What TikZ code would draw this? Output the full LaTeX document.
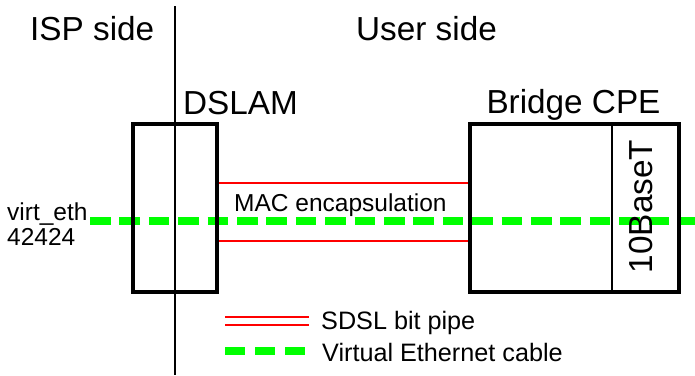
\documentclass[tikz,border=0pt]{standalone}
\usepackage{fontspec}
\setmainfont{Liberation Sans}
\usepackage{tikz}
\usetikzlibrary{positioning}
\definecolor{pipered}{HTML}{FF0000}
\definecolor{ethgreen}{HTML}{00FF00}
\tikzset{
    devbox/.style={draw=black,line width=4pt,minimum width=84pt,
      minimum height=167.5pt,inner sep=0pt},
    bigtext/.style={font=\fontsize{33.3}{40}\selectfont,inner sep=0pt},
    smalltext/.style={font=\fontsize{24.5}{30}\selectfont,inner sep=0pt},
    keytext/.style={font=\fontsize{25.2}{30}\selectfont,inner sep=0pt},
    sdslpipe/.style={draw=pipered,line width=2pt},
    virtcable/.style={draw=ethgreen,line width=8pt,line cap=butt,
      dash pattern=on 20.5pt off 8.9pt},
    sideline/.style={draw=black,line width=2pt}
}

\begin{document}
\begin{tikzpicture}[x=1pt,y=-1pt]
  \useasboundingbox (0,0) rectangle (695,375);
  % virtual ethernet cable, under the boxes
  \coordinate (cablein) at (90,220.7);
  \coordinate (cableout) at (695,220.7);
  \draw[virtcable] (cablein) -- (cableout);
  \node[smalltext,anchor=base west] (virt) at (7,220) {virt\_eth};
  \node[smalltext,anchor=base west] (vid) at (7,245) {42424};

  % the two devices
  \node[devbox] (dslam) at (175,207.75) {};
  \node[devbox,minimum width=209.5pt] (cpe) at (574.25,207.75) {};
  \node[bigtext,anchor=base west] (dslamname) at (183,114) {DSLAM};
  \node[bigtext,anchor=base] (cpename) at (573.5,113.5) {Bridge CPE};
  \draw[sideline] (cpe.north -| 611.5,0) -- (cpe.south -| 611.5,0);
  \node[bigtext,rotate=90] (port) at (641.5,206.5) {10BaseT};

  % sdsl pipe between them
  \draw[sdslpipe] (dslam.east |- 0,182.7) -- (cpe.west |- 0,182.7);
  \draw[sdslpipe] (dslam.east |- 0,241) -- (cpe.west |- 0,241);
  \node[smalltext,anchor=base west] (encap) at (234,211.7) {MAC encapsulation};

  % isp / user border
  \draw[sideline] (dslam.north |- 0,6) -- (dslam.south |- 0,375);
  \node[bigtext,anchor=base west] (isp) at (30,40) {ISP side};
  \node[bigtext,anchor=base west] (user) at (356,40) {User side};

  % legend
  \draw[sdslpipe] (225,316.7) -- (309,316.7);
  \draw[sdslpipe] (225,325) -- (309,325);
  \node[keytext,anchor=base west] (pipekey) at (321,329) {SDSL bit pipe};
  \draw[virtcable,dash pattern=on 20pt off 10pt] (225,351) -- (305,351);
  \node[keytext,anchor=base west] (cablekey) at (322,361.7) {Virtual Ethernet cable};
\end{tikzpicture}
\end{document}
